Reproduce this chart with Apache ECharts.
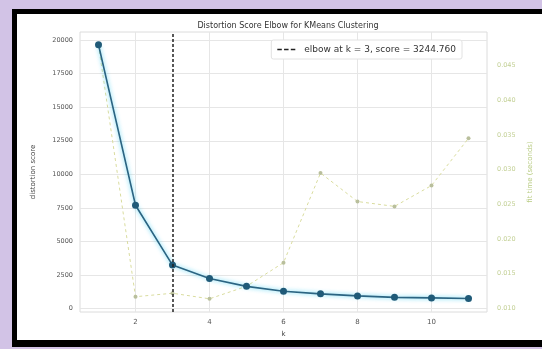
<!DOCTYPE html>
<html>
<head>
<meta charset="utf-8">
<script src="https://cdn.jsdelivr.net/npm/echarts@6/dist/echarts.min.js"></script>
<style>
  html, body { margin: 0; padding: 0; }
  body { width: 542px; height: 349px; background: #d2c3e6; position: relative; overflow: hidden; }
  #frame { position: absolute; left: 12px; top: 9px; width: 600px; height: 326px;
           border: 5px solid #000; border-bottom-width: 7px; background: #fff; }
  #chart { position: absolute; left: 0; top: 0; width: 542px; height: 349px; }
</style>
</head>
<body>
<div id="frame"></div>
<div id="chart"></div>
<script>
// k values and scores
const kValues = [1, 2, 3, 4, 5, 6, 7, 8, 9, 10, 11];
const distortion = [19650, 7700, 3244.76, 2240, 1660, 1290, 1100, 950, 840, 800, 750];
const fitTime = [0.0479, 0.0117, 0.0122, 0.0114, 0.0132, 0.0166, 0.0295, 0.0254, 0.0247, 0.0277, 0.0345];
const elbowK = 3;
const elbowScore = 3244.760;

const xTicks = [2, 4, 6, 8, 10];
const yTicks = [0, 2500, 5000, 7500, 10000, 12500, 15000, 17500, 20000];
const timeTicks = [0.010, 0.015, 0.020, 0.025, 0.030, 0.035, 0.040, 0.045];

const chart = echarts.init(document.getElementById('chart'), null, { renderer: 'canvas' });
const font = 'DejaVu Sans';
const gridColor = '#e6e6e6';
const elbowName = 'elbow at k = ' + elbowK + ', score = ' + elbowScore.toFixed(3);

const option = {
  animation: false,
  backgroundColor: 'transparent',
  textStyle: { fontFamily: font },
  title: {
    text: 'Distortion Score Elbow for KMeans Clustering',
    left: 283, top: 17, textAlign: 'center',
    textStyle: { fontSize: 8, fontWeight: 'normal', color: '#333', fontFamily: font }
  },
  legend: {
    data: [{ name: elbowName, icon: 'path://M0,0h4v1.4h-4z M6,0h4v1.4h-4z M12,0h4v1.4h-4z' }],
    right: 80, top: 40,
    itemWidth: 18, itemHeight: 2, itemGap: 4,
    padding: [5, 6],
    borderColor: '#e2e2e2', borderWidth: 1, borderRadius: 2,
    backgroundColor: '#fff',
    textStyle: { fontSize: 9, color: '#333', fontFamily: font, padding: [0, 0, 0, 4] }
  },
  grid: { left: 80, right: 55, top: 32, bottom: 37, show: true, borderColor: '#dcdcdc', borderWidth: 1 },
  xAxis: {
    type: 'value', min: 0.5, max: 11.5,
    name: 'k', nameLocation: 'middle', nameGap: 18,
    nameTextStyle: { fontSize: 7, color: '#444' },
    axisLine: { show: false },
    axisTick: { show: false, customValues: xTicks },
    axisLabel: { customValues: xTicks, fontSize: 7, color: '#555', margin: 7 },
    splitLine: { show: true, lineStyle: { color: gridColor, width: 1 } }
  },
  yAxis: [
    {
      type: 'value', min: -250, max: 20600,
      name: 'distortion score', nameLocation: 'middle', nameGap: 43,
      nameTextStyle: { fontSize: 7, color: '#444' },
      axisLine: { show: false },
      axisTick: { show: false, customValues: yTicks },
      axisLabel: { customValues: yTicks, fontSize: 6.5, color: '#555', margin: 7,
                   formatter: v => String(v) },
      splitLine: { show: true, lineStyle: { color: gridColor, width: 1 } }
    },
    {
      type: 'value', min: 0.0095, max: 0.0498, position: 'right',
      name: 'fit time (seconds)', nameLocation: 'middle', nameGap: 36, nameRotate: 90,
      nameTextStyle: { fontSize: 7, color: '#b9cc84' },
      axisLine: { show: false },
      axisTick: { show: false, customValues: timeTicks },
      axisLabel: { customValues: timeTicks, fontSize: 6.5, color: '#c3d095', margin: 10,
                   formatter: v => v.toFixed(3) },
      splitLine: { show: false }
    }
  ],
  series: [
    {
      name: 'fit time',
      type: 'line',
      yAxisIndex: 1,
      data: kValues.map((k, i) => [k, fitTime[i]]),
      symbol: 'circle', symbolSize: 4,
      itemStyle: { color: '#b9bf9c' },
      lineStyle: { color: '#d9dc9e', width: 1, type: [3, 3] },
      z: 2
    },
    {
      name: 'distortion',
      type: 'line',
      data: kValues.map((k, i) => [k, distortion[i]]),
      symbol: 'circle', symbolSize: 7,
      itemStyle: { color: '#1f5a78' },
      lineStyle: { color: '#2b6482', width: 1.6, shadowColor: 'rgba(40,200,240,0.8)', shadowBlur: 4 },
      z: 3
    },
    {
      name: elbowName,
      type: 'line',
      data: [],
      symbol: 'none',
      itemStyle: { color: '#222' },
      lineStyle: { color: '#222', width: 1.5, type: [3, 2] },
      markLine: {
        silent: true, symbol: 'none', label: { show: false },
        lineStyle: { color: '#222', width: 1.5, type: [3, 2] },
        data: [{ xAxis: elbowK }]
      },
      z: 4
    }
  ]
};

chart.setOption(option);
</script>
</body>
</html>
